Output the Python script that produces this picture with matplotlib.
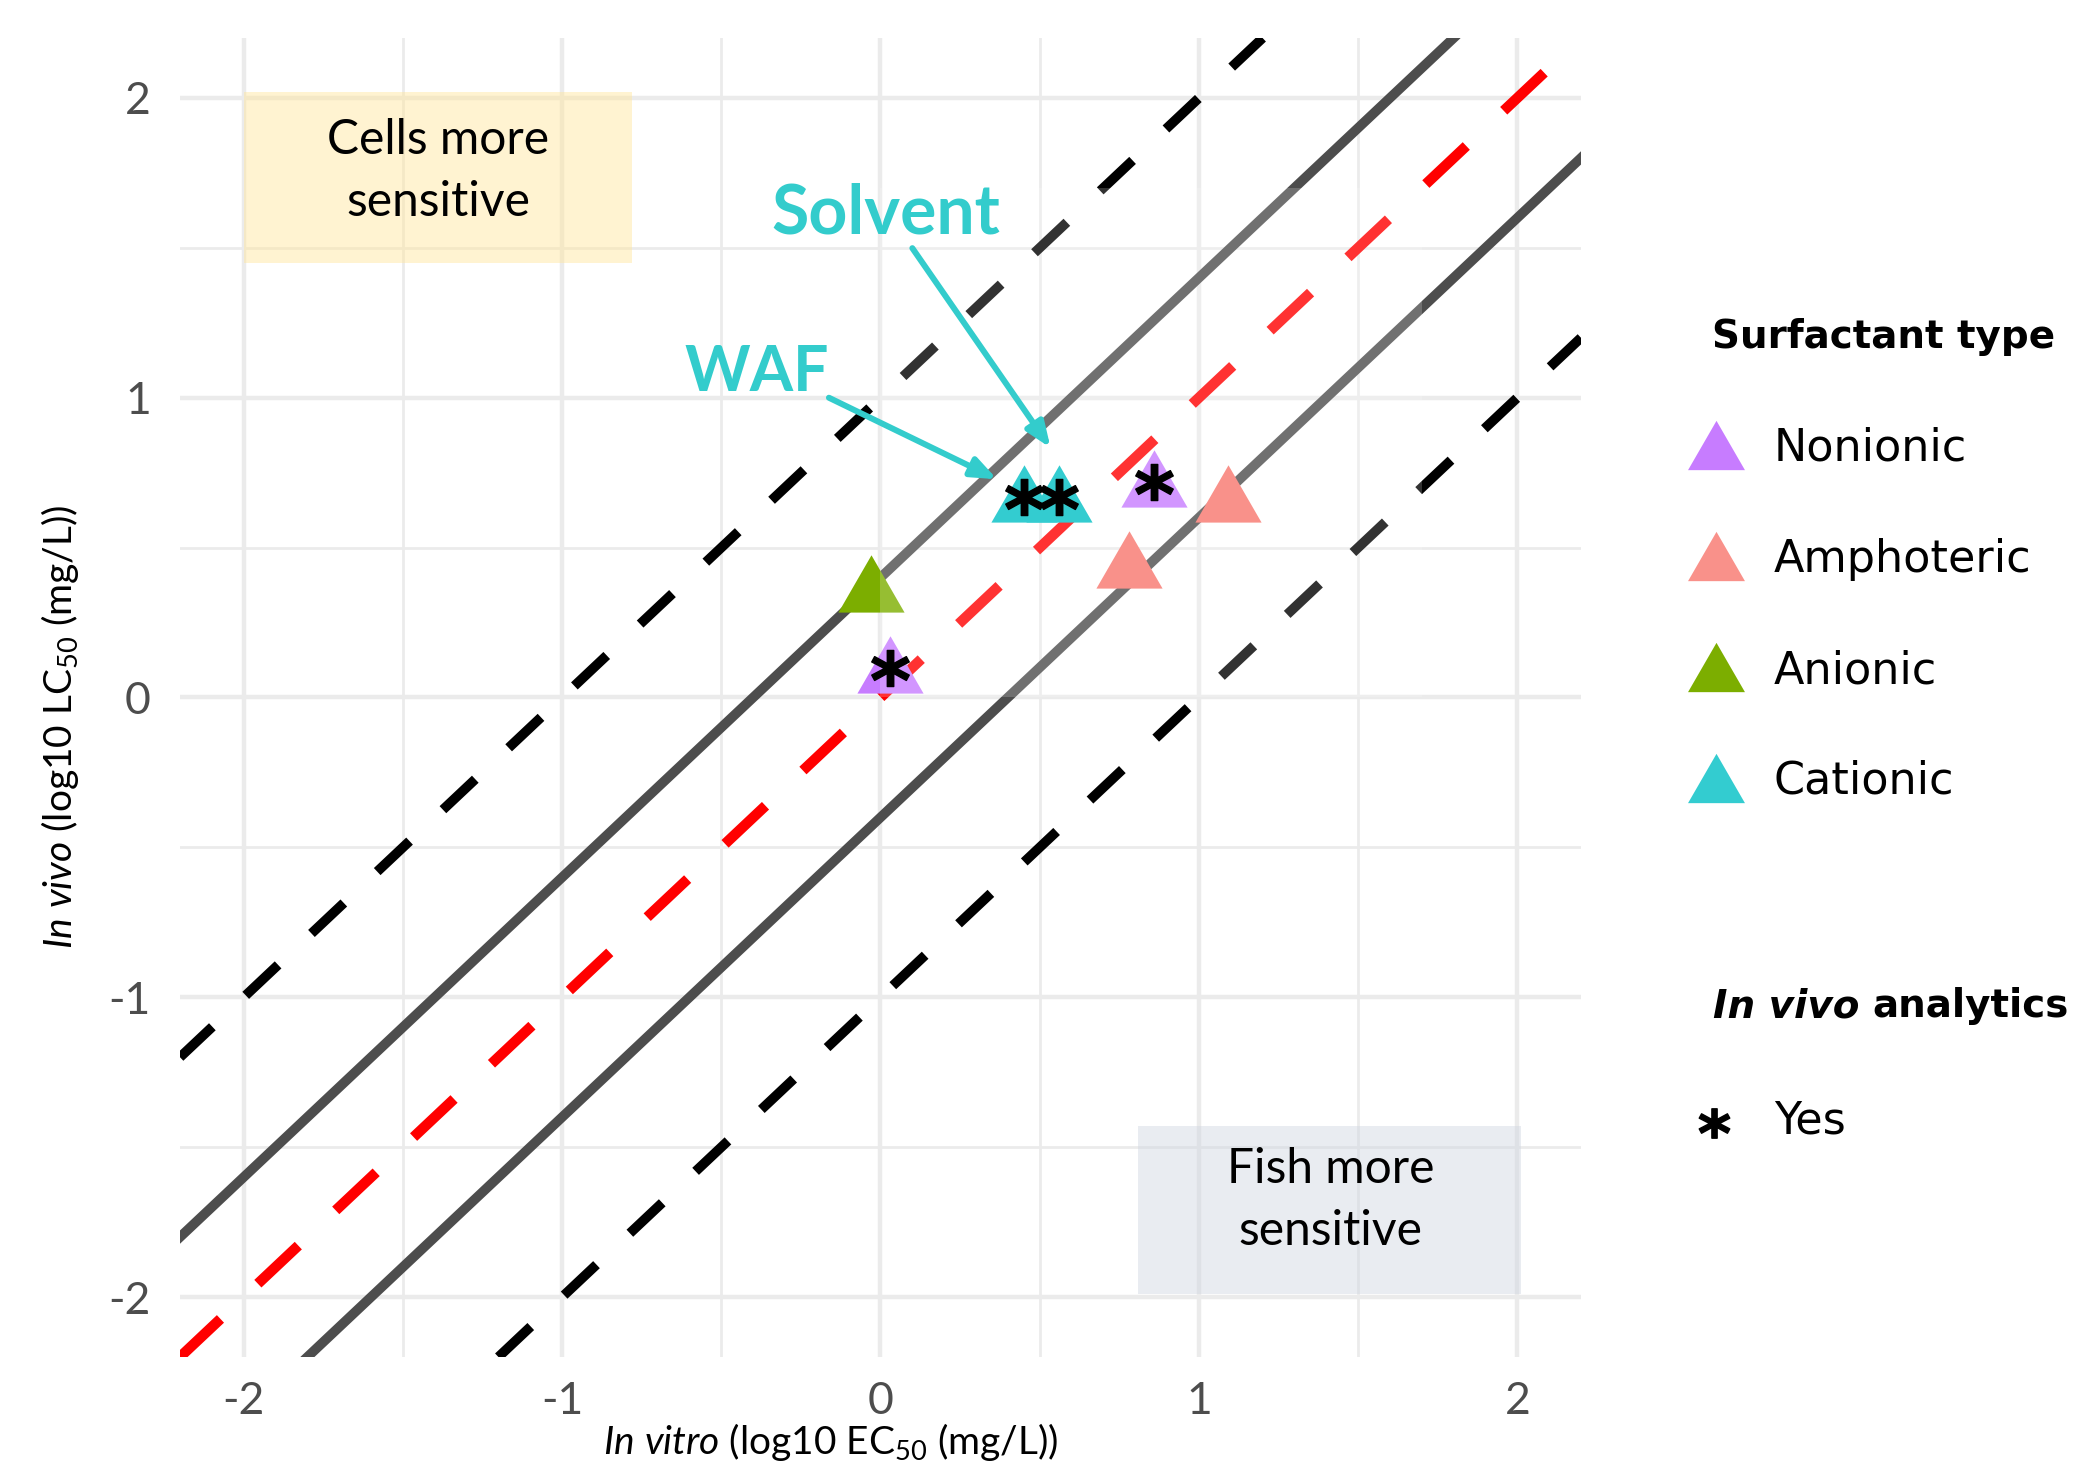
import matplotlib
matplotlib.use("Agg")
import matplotlib.pyplot as plt
from matplotlib.patches import Rectangle
from matplotlib.lines import Line2D
from matplotlib.transforms import ScaledTranslation

plt.rcParams['font.family'] = 'Lato'
plt.rcParams['axes.unicode_minus'] = False
plt.rcParams['lines.scale_dashes'] = False
plt.rcParams['mathtext.fontset'] = 'custom'
plt.rcParams['mathtext.rm'] = 'Lato'
plt.rcParams['mathtext.it'] = 'Lato:italic'
plt.rcParams['mathtext.bf'] = 'DejaVu Sans:bold'

# surfactants: in vitro EC50 vs in vivo LC50 (log10 mg/L)
x_vitro = [0.03, -0.03, 0.45, 0.56, 0.86, 1.09, 0.78]
y_vivo = [0.08, 0.35, 0.65, 0.65, 0.70, 0.65, 0.43]
surf_type = ['Nonionic', 'Anionic', 'Cationic', 'Cationic',
             'Nonionic', 'Amphoteric', 'Amphoteric']
analytics = [True, False, True, True, True, False, False]

type_order = ['Nonionic', 'Amphoteric', 'Anionic', 'Cationic']
type_colors = {'Nonionic': '#C77CFF', 'Amphoteric': '#F9918A',
               'Anionic': '#7CAE00', 'Cationic': '#33CCD0'}

# y = x + offset reference lines
one_to_one = [0.0]
band_narrow = [-0.4, 0.4]
band_wide = [-1.0, 1.0]

W, H = 2084, 1464
fig = plt.figure(figsize=(W / 100, H / 100), dpi=100)
ax = fig.add_axes([180 / W, 1 - 1357 / H, 1401 / W, 1319 / H])


def px(x, y):
    return x / W, 1 - y / H


ax.set_xlim(-2.2, 2.2)
ax.set_ylim(-2.2, 2.2)
ax.set_xticks([-2, -1, 0, 1, 2])
ax.set_yticks([-2, -1, 0, 1, 2])
ax.set_xticks([-1.5, -0.5, 0.5, 1.5], minor=True)
ax.set_yticks([-1.5, -0.5, 0.5, 1.5], minor=True)
ax.set_axisbelow(True)
ax.grid(which='major', color='#EBEBEB', lw=3.2)
ax.grid(which='minor', color='#EBEBEB', lw=2.0)
for s in ax.spines.values():
    s.set_visible(False)
ax.tick_params(which='both', length=0)
ax.tick_params(axis='x', pad=17, labelsize=32, labelcolor='#4D4D4D')
ax.tick_params(axis='y', pad=21, labelsize=32, labelcolor='#4D4D4D')

# sensitivity boxes
ax.add_patch(Rectangle((-2.0, 1.45), 1.22, 0.57, facecolor='#FFE699',
                       alpha=0.45, lw=0, zorder=1))
ax.text(-1.39, 1.756, 'Cells more\nsensitive', ha='center', va='center',
        fontsize=34.5, linespacing=1.5, zorder=1.5)
ax.add_patch(Rectangle((0.81, -1.99), 1.2, 0.56, facecolor='#D0D6E0',
                       alpha=0.45, lw=0, zorder=1))
ax.text(1.413, -1.677, 'Fish more\nsensitive', ha='center', va='center',
        fontsize=34.5, linespacing=1.5, zorder=1.5)

for b in band_wide:
    ax.axline((0, b), slope=1, color='black', lw=7, dashes=(32, 33),
              dash_capstyle='butt', zorder=2)
for b in band_narrow:
    ax.axline((0, b), slope=1, color='#4D4D4D', lw=7, zorder=2)
for b in one_to_one:
    ax.axline((0, b), slope=1, color='#FF0000', lw=7.5, dashes=(40, 37),
              dash_capstyle='butt', zorder=2)

tri = [(0, 1), (-0.866, -0.5), (0.866, -0.5)]
for x, y, t in zip(x_vitro, y_vivo, surf_type):
    z = 4 if t in ('Cationic', 'Amphoteric') else 3
    ax.plot(x, y, marker=tri, ms=55, color=type_colors[t], mec='none',
            ls='none', zorder=z)

# light wash over the central region
ax.add_patch(Rectangle((0, 0), 1.7, 1.7, facecolor='white', alpha=0.2,
                       lw=0, zorder=3.5))

star_shift = ax.transData + ScaledTranslation(0, 0.06, fig.dpi_scale_trans)
for x, y, a in zip(x_vitro, y_vivo, analytics):
    if a:
        ax.plot(x, y, marker=r'$\mathbf{*}$', ms=27, color='black', ls='none',
                transform=star_shift, zorder=5)

cyan = '#33CCCC'
arrow_kw = dict(arrowstyle='-|>,head_length=0.75,head_width=0.3', color=cyan,
                lw=4.3, mutation_scale=20, shrinkA=0, shrinkB=0)
ax.annotate('', xy=(0.534, 0.833), xytext=(0.100, 1.499),
            arrowprops=arrow_kw, zorder=6)
ax.annotate('', xy=(0.366, 0.728), xytext=(-0.162, 1.0),
            arrowprops=arrow_kw, zorder=6)
ax.text(0.017, 1.612, 'Solvent', color=cyan, fontsize=49, fontweight='bold',
        ha='center', va='center', zorder=6)
ax.text(-0.389, 1.082, 'WAF', color=cyan, fontsize=45, fontweight='bold',
        ha='center', va='center', zorder=6)

# axis titles
fig.text(*px(831, 1442), r'$\mathit{In\ vitro}$ (log10 EC$_{50}$ (mg/L))',
         ha='center', va='center', fontsize=28)
fig.text(*px(60, 727), r'$\mathit{In\ vivo}$ (log10 LC$_{50}$ (mg/L))',
         ha='center', va='center', rotation=90, fontsize=28)

# legend
leg_font = 'DejaVu Sans'
fig.text(*px(1712, 348), 'Surfactant type', fontsize=28, fontweight='bold',
         family=leg_font, va='baseline')
key_tri = [(0, 0.433), (-0.5, -0.433), (0.5, -0.433)]
for i, t in enumerate(type_order):
    yc = 445 + 111 * i
    fig.add_artist(Line2D([1716 / W], [1 - yc / H], marker=key_tri, ms=41,
                          color=type_colors[t], mec='none', ls='none',
                          transform=fig.transFigure))
    fig.text(*px(1774, yc + 16), t, fontsize=32, family=leg_font,
             va='baseline')

fig.text(*px(1713, 1017), 'In vivo', fontsize=28, fontweight='bold',
         style='italic', family=leg_font, va='baseline')
fig.text(*px(1872, 1017), 'analytics', fontsize=28, fontweight='bold',
         family=leg_font, va='baseline')
fig.add_artist(Line2D([1714 / W], [1 - 1123 / H], marker=r'$\mathbf{*}$',
                      ms=22, color='black', ls='none',
                      transform=fig.transFigure))
fig.text(*px(1774, 1134), 'Yes', fontsize=32, family=leg_font, va='baseline')

fig.savefig('out.png', dpi=100)
